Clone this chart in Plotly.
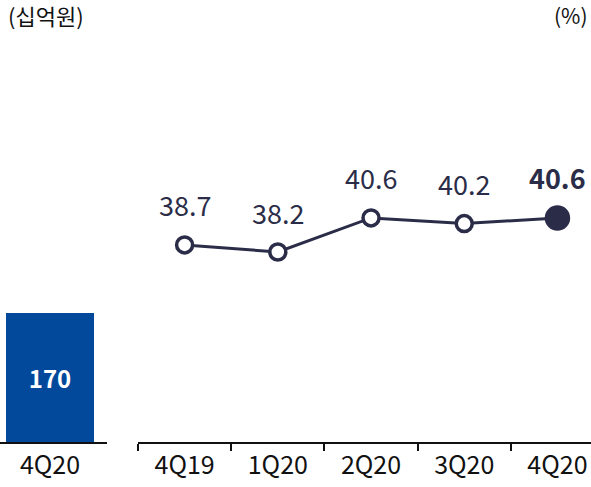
import plotly.graph_objects as go

# Data
bar_cat = ['4Q20']
bar_val = [170]
quarters = ['4Q19', '1Q20', '2Q20', '3Q20', '4Q20']
ratio = [38.7, 38.2, 40.6, 40.2, 40.6]

navy = '#2B2D48'
blue = '#02499C'
W, H = 591, 487
FONT = 'Noto Sans CJK KR'

fig = go.Figure()

# Left: single bar (십억원)
fig.add_trace(go.Bar(
    x=bar_cat, y=bar_val, xaxis='x', yaxis='y',
    marker=dict(color=blue, line=dict(width=0)), width=0.88,
    text=[str(v) for v in bar_val], textposition='inside',
    insidetextanchor='middle',
    textfont=dict(family=FONT, size=24, color='white', weight='bold'),
    showlegend=False
))

# Right: ratio line (%)
fig.add_trace(go.Scatter(
    x=quarters, y=ratio, xaxis='x2', yaxis='y2', mode='lines+markers',
    line=dict(color=navy, width=3), opacity=1,
    marker=dict(
        size=[16, 16, 16, 16, 22], opacity=1,
        color=['white'] * 4 + [navy],
        line=dict(color=navy, width=3.5)
    ),
    showlegend=False
))

for i, (q, v) in enumerate(zip(quarters, ratio)):
    last = i == len(quarters) - 1
    fig.add_annotation(
        x=q, y=v, xref='x2', yref='y2', text=str(v), showarrow=False,
        yshift=40,
        font=dict(family=FONT, size=27, color=navy,
                  weight='bold' if last else 'normal')
    )

fig.add_annotation(x=6 / W, y=1, xref='paper', yref='paper', yshift=25,
                   text='(십억원)', showarrow=False, xanchor='left', yanchor='middle',
                   font=dict(family=FONT, size=22, color='#111'))
fig.add_annotation(x=590 / W, y=1, xref='paper', yref='paper', yshift=25,
                   text='(%)', showarrow=False, xanchor='right', yanchor='middle',
                   font=dict(family=FONT, size=21, color='#111'))

tick_font = dict(family=FONT, size=25, color='#111')

fig.update_layout(
    width=W, height=H,
    margin=dict(l=0, r=0, t=40, b=45),
    plot_bgcolor='white', paper_bgcolor='white',
    xaxis=dict(domain=[0, 107 / W], range=[-0.5, 0.57], showline=True,
               linecolor='#111', linewidth=2, ticks='', tickfont=tick_font,
               showgrid=False, zeroline=False, fixedrange=True),
    yaxis=dict(domain=[0, 1], range=[0, 530], visible=False, showgrid=False),
    xaxis2=dict(domain=[138 / W, 1], range=[-0.5, 4.36], anchor='y2',
                showline=True, linecolor='#111', linewidth=2,
                ticks='outside', tickson='boundaries', ticklen=7,
                tickwidth=2, tickcolor='#111', tickfont=tick_font,
                showgrid=False, zeroline=False),
    yaxis2=dict(domain=[0, 1], range=[24.82, 53.13], anchor='x2',
                visible=False, showgrid=False),
)

fig.write_html('out.html', config={'displayModeBar': False},
               post_script="document.body.style.margin='0';document.body.style.overflow='hidden';")
